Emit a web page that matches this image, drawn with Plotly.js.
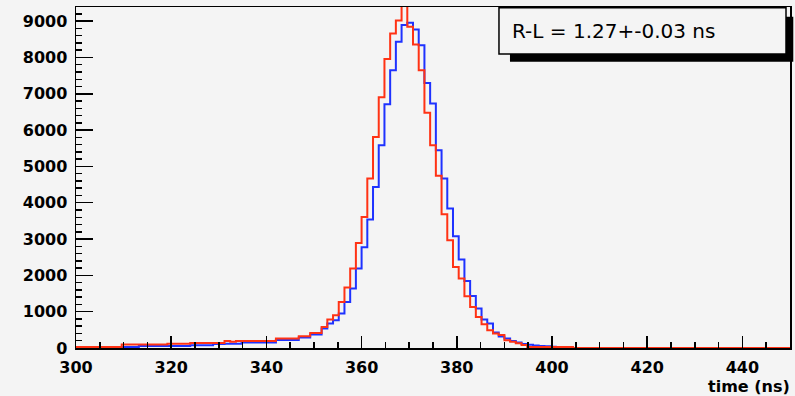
<!DOCTYPE html>
<html>
<head>
<meta charset="utf-8">
<script src="https://cdn.plot.ly/plotly-3.0.1.min.js"></script>
<style>
  html, body { margin: 0; padding: 0; background: #f4f4f4; }
  #chart { width: 795px; height: 396px; }
</style>
</head>
<body>
<div id="chart"></div>
<script>
// Histogram definition: 125 bins from 300 to 450 ns
const histMin = 300;
const histMax = 450;
const nBins = 125;

// Blue histogram (bin contents)
const blueCounts = [
  10, 10, 10, 10, 10, 10, 10, 10,
  30, 30, 30,
  55, 55, 55, 55, 55, 55, 55, 55, 55,
  74, 74, 74, 74,
  110, 110, 115, 115, 120,
  150, 150, 150, 150, 150, 150,
  220, 220, 220, 220,
  290, 290,
  370, 370,
  534, 672, 763, 947, 1267, 1636, 2187, 2774, 3537, 4435,
  5584, 6710, 7650, 8430, 8894, 8953, 8771, 8339, 7300, 6733,
  5446, 4667, 3840, 3077, 2435, 1846, 1433, 1085, 782, 672,
  430, 320, 259, 193, 150, 110,
  90, 70, 55, 45, 35, 28, 22, 18,
  0, 0, 0, 0, 0, 0, 0, 0, 0, 0, 0, 0, 0, 0, 0, 0, 0, 0, 0,
  0, 0, 0, 0, 0, 0, 0, 0, 0, 0, 0, 0, 0, 0, 0, 0, 0, 0, 0
];

// Red histogram (bin contents)
const redCounts = [
  25, 25, 25, 25, 25, 25, 25, 25,
  94, 94, 94, 94, 94, 94, 94, 94,
  120, 120, 120, 120,
  138, 138, 138, 138, 138, 138,
  193, 175, 193,
  193, 193, 193, 193, 193, 193,
  259, 259, 259, 259,
  322, 322,
  413, 413,
  579, 782, 900, 1267, 1664, 2187, 2890, 3609, 4667, 5813,
  6905, 7960, 8661, 9020, 9700, 8843, 8360, 7650, 6480, 5584,
  4745, 3680, 2967, 2231, 1911, 1424, 1129, 854, 653, 488,
  396, 360, 212, 175, 130, 80,
  30, 30, 30, 30, 30, 30, 30, 30,
  0, 0, 0, 0, 0, 0, 0, 0, 0, 0, 0, 0, 0, 0, 0, 0, 0, 0, 0,
  0, 0, 0, 0, 0, 0, 0, 0, 0, 0, 0, 0, 0, 0, 0, 0, 0, 0, 0
];

const xTickVals = [300, 320, 340, 360, 380, 400, 420, 440];
const yTickVals = [0, 1000, 2000, 3000, 4000, 5000, 6000, 7000, 8000, 9000];
const xTitle = "time (ns)";
const statText = "R-L = 1.27+-0.03 ns";

// Build step outlines from the histogram definition
const binWidth = (histMax - histMin) / nBins;
function stepXY(counts) {
  const xs = [], ys = [];
  for (let i = 0; i < counts.length; i++) {
    xs.push(histMin + i * binWidth);
    ys.push(counts[i]);
  }
  xs.push(histMin + counts.length * binWidth);
  ys.push(counts[counts.length - 1]);
  return { xs, ys };
}
const b = stepXY(blueCounts);
const r = stepXY(redCounts);

const tickFont = { family: "DejaVu Sans", size: 16, color: "#000", weight: "bold" };

const traces = [
  { x: b.xs, y: b.ys, type: "scatter", mode: "lines", line: { shape: "hv", color: "#1e32ff", width: 2 }, hoverinfo: "skip" },
  { x: r.xs, y: r.ys, type: "scatter", mode: "lines", line: { shape: "hv", color: "#ff3214", width: 2 }, hoverinfo: "skip" }
];

const layout = {
  width: 795, height: 396,
  margin: { l: 76, r: 5, t: 7, b: 48, pad: 0 },
  paper_bgcolor: "#f4f4f4",
  plot_bgcolor: "#f4f4f4",
  showlegend: false,
  xaxis: {
    range: [histMin, histMax],
    tickvals: xTickVals,
    ticktext: xTickVals.map(String),
    ticks: "inside", ticklen: 12, tickwidth: 1.5, tickcolor: "#000",
    minor: { dtick: 5, ticks: "inside", ticklen: 6, tickwidth: 1.5, tickcolor: "#000", showgrid: false },
    showgrid: false, zeroline: false,
    showline: true, linecolor: "#000", linewidth: 1.5, mirror: true,
    tickfont: tickFont, ticklabelstandoff: 4
  },
  yaxis: {
    range: [0, 9390],
    tickvals: yTickVals,
    ticktext: yTickVals.map(String),
    ticks: "inside", ticklen: 17, tickwidth: 1.5, tickcolor: "#000",
    minor: { dtick: 200, ticks: "inside", ticklen: 6, tickwidth: 1.5, tickcolor: "#000", showgrid: false },
    showgrid: false, zeroline: false,
    showline: true, linecolor: "#000", linewidth: 1.5, mirror: true,
    tickfont: tickFont, ticklabelstandoff: 4
  },
  shapes: [
    { type: "rect", xref: "paper", yref: "paper", x0: 0.6078, x1: 1.0046, y0: 0.8396, y1: 0.9716,
      fillcolor: "#000", line: { width: 0 }, layer: "above" },
    { type: "rect", xref: "paper", yref: "paper", x0: 0.5924, x1: 0.9944, y0: 0.8622, y1: 0.9976,
      fillcolor: "#f4f4f4", line: { color: "#000", width: 1.5 }, layer: "above" }
  ],
  annotations: [
    { text: statText, xref: "paper", yref: "paper", x: 0.608, y: 0.9296, xanchor: "left", yanchor: "middle",
      showarrow: false, font: { family: "DejaVu Sans", size: 20, color: "#000" } },
    { text: xTitle, xref: "paper", yref: "paper", x: 1.0028, y: -0.113, xanchor: "right", yanchor: "middle",
      showarrow: false, font: { family: "DejaVu Sans", size: 16, color: "#000", weight: "bold" } }
  ]
};

Plotly.newPlot("chart", traces, layout, { staticPlot: true, displayModeBar: false });
</script>
</body>
</html>
